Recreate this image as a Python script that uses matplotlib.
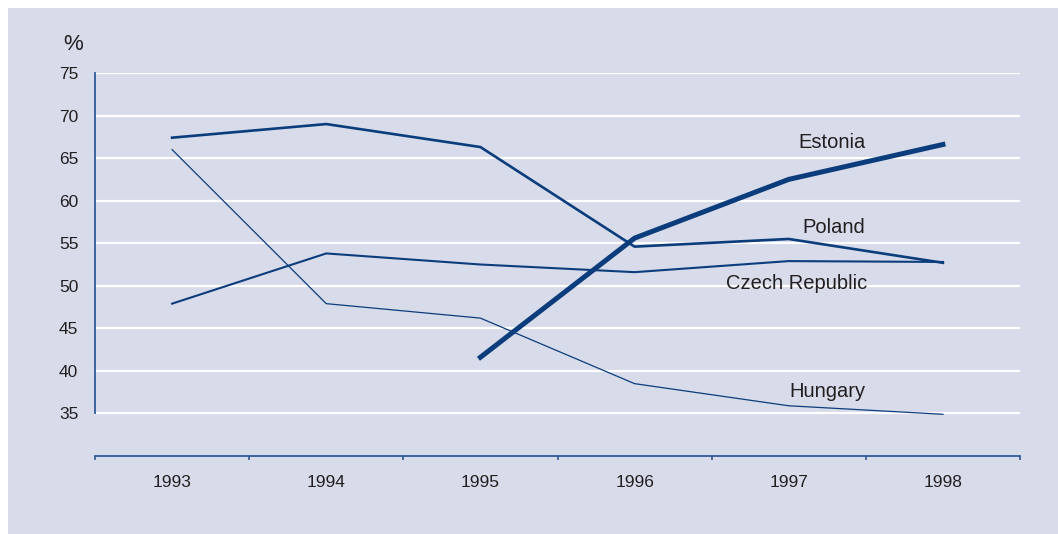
import numpy as np
import matplotlib
matplotlib.use('Agg')
import matplotlib.pyplot as plt
from matplotlib.patches import Rectangle

plt.rcParams['font.family'] = ['Liberation Sans Narrow', 'Liberation Sans', 'DejaVu Sans']

years = [1993, 1994, 1995, 1996, 1997, 1998]
poland = [67.4, 69.0, 66.3, 54.6, 55.5, 52.7]
czech = [47.9, 53.8, 52.5, 51.6, 52.9, 52.8]
hungary = [66.0, 47.9, 46.2, 38.5, 35.9, 34.9]
estonia_years = [1995, 1996, 1997, 1998]
estonia = [41.6, 55.6, 62.5, 66.6]
yticks = [35, 40, 45, 50, 55, 60, 65, 70, 75]

navy = '#0b3d7c'
bg = '#d8dbe9'
axis_col = '#2f5a96'
txt = '#231f20'

fig = plt.figure(figsize=(10.58, 5.34), dpi=100)
fig.patch.set_facecolor('white')
fig.patches.append(Rectangle((8 / 1058, 0), 1 - 8 / 1058, 1 - 8 / 534,
                             transform=fig.transFigure, facecolor=bg,
                             edgecolor='none', zorder=-5))

ax = fig.add_axes([95 / 1058, 1 - 456 / 534, 925 / 1058, 383 / 534])
ax.set_facecolor('none')
ax.set_xlim(1992.5, 1998.5)
ax.set_ylim(30, 75)

for y in yticks:
    ax.axhline(y, color='white', lw=1.6, zorder=1)

ax.plot(years, hungary, color=navy, lw=0.9, zorder=3)
ax.plot(years, czech, color=navy, lw=1.5, zorder=3)
ax.plot(years, poland, color=navy, lw=1.9, zorder=3)
ax.plot(estonia_years, estonia, color=navy, lw=3.6, zorder=4)

ax.text(1997.28, 66.8, 'Estonia', fontsize=14.5, color=txt, ha='center', va='center')
ax.text(1997.29, 56.9, 'Poland', fontsize=14.5, color=txt, ha='center', va='center')
ax.text(1997.05, 50.3, 'Czech Republic', fontsize=14.5, color=txt, ha='center', va='center')
ax.text(1997.25, 37.6, 'Hungary', fontsize=14.5, color=txt, ha='center', va='center')

for s in ['top', 'right']:
    ax.spines[s].set_visible(False)
ax.spines['left'].set_bounds(35, 75)
ax.spines['left'].set_color(axis_col)
ax.spines['left'].set_linewidth(1.3)
ax.spines['bottom'].set_color(axis_col)
ax.spines['bottom'].set_linewidth(1.3)

ax.set_yticks(yticks)
ax.set_yticklabels([str(v) for v in yticks])
ax.tick_params(axis='y', length=0, pad=12, labelsize=12.5, labelcolor=txt)
ax.set_xticks(years)
ax.set_xticklabels([str(v) for v in years])
ax.set_xticks(np.arange(1992.5, 1999, 1.0), minor=True)
ax.tick_params(axis='x', which='major', length=0, pad=14, labelsize=12.5, labelcolor=txt)
ax.tick_params(axis='x', which='minor', length=3, width=1.2, color=axis_col)

fig.text(73 / 1058, 1 - 44 / 534, '%', fontsize=16, color=txt, ha='center', va='center')

fig.savefig('out.png', dpi=100, facecolor=fig.get_facecolor())
